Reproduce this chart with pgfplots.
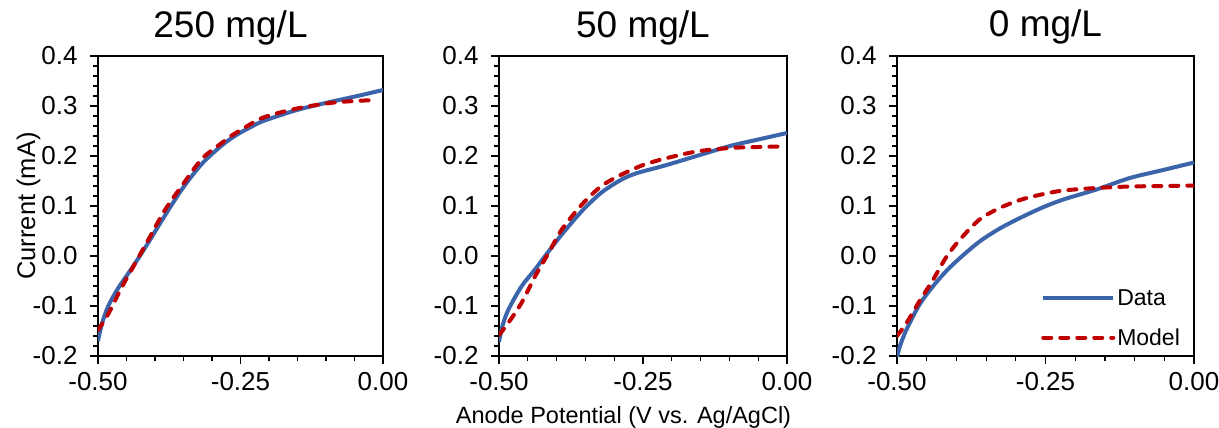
\documentclass[border=0pt]{standalone}
\usepackage{pgfplots}
\pgfplotsset{compat=1.18}
\usepackage{fontspec}
\setmainfont{Liberation Sans}
\definecolor{dblue}{RGB}{59,100,170}
\definecolor{dred}{RGB}{192,0,0}
\pgfplotsset{
  panel/.style={
    scale only axis, height=300pt,
    xmin=-0.5, xmax=0, ymin=-0.2, ymax=0.4,
    xtick={-0.5,-0.25,0}, xticklabels={-0.50,-0.25,0.00},
    ytick={-0.2,-0.1,0,0.1,0.2,0.3,0.4},
    yticklabels={-0.2,-0.1,0.0,0.1,0.2,0.3,0.4},
    minor x tick num=4, minor y tick num=4,
    tick align=outside, tick pos=left,
    major tick length=8pt, minor tick length=5pt,
    axis line style={line width=1.2pt, black},
    tick style={line width=1.2pt, black},
    minor tick style={line width=1.2pt, black},
    every tick label/.append style={font=\fontsize{26}{26}\selectfont},
    yticklabel style={xshift=-9pt},
    xticklabel style={yshift=-5pt},
    /pgf/number format/assume math mode=true,
    title style={font=\fontsize{37}{37}\selectfont, at={(0.5,1)}, anchor=base, yshift=13pt},
  },
  dataline/.style={dblue, line width=4pt, smooth, no marks},
  modelline/.style={dred, line width=4pt, smooth, no marks, dash pattern=on 8pt off 9pt, line cap=round},
}
\begin{document}
\begin{tikzpicture}
\path[use as bounding box] (0pt,0pt) rectangle (1219pt,-428pt);
% Panel 1
\begin{axis}[panel, width=285pt, at={(98pt,-356pt)}, anchor=south west,
  title={250 mg/L}, title style={xshift=-10pt},
  ylabel={Current (mA)},
  ylabel style={font=\fontsize{25.5}{25.5}\selectfont, at={(axis description cs:-0.221,0.5)}, anchor=base},
]
\addplot[dataline] coordinates {
(-0.500,-0.170) (-0.493,-0.135) (-0.482,-0.100) (-0.465,-0.065) (-0.447,-0.035)
(-0.430,-0.006) (-0.410,0.030) (-0.388,0.071) (-0.353,0.133) (-0.318,0.184)
(-0.283,0.221) (-0.260,0.240) (-0.245,0.250) (-0.230,0.259) (-0.210,0.270)
(-0.151,0.292) (-0.093,0.308) (-0.045,0.320) (0.000,0.332)};
\addplot[modelline] coordinates {
(-0.500,-0.148) (-0.482,-0.116) (-0.458,-0.062) (-0.435,-0.015) (-0.412,0.032)
(-0.382,0.093) (-0.353,0.140) (-0.318,0.194) (-0.283,0.226) (-0.268,0.239)
(-0.248,0.253) (-0.210,0.277) (-0.151,0.295) (-0.093,0.306) (-0.050,0.310)
(-0.010,0.312)};
\end{axis}
% Panel 2
\begin{axis}[panel, width=288pt, at={(499pt,-356pt)}, anchor=south west,
  title={50 mg/L},
  xlabel={Anode Potential (V vs. Ag/AgCl)},
  xlabel style={font=\fontsize{23.5}{23.5}\selectfont, at={(axis description cs:0.5,0)}, anchor=base, yshift=-67pt, xshift=-19.5pt},
]
\addplot[dataline] coordinates {
(-0.500,-0.172) (-0.494,-0.140) (-0.484,-0.108) (-0.461,-0.061) (-0.4375,-0.027)
(-0.414,0.009) (-0.391,0.043) (-0.356,0.090) (-0.322,0.127) (-0.287,0.153)
(-0.260,0.166) (-0.215,0.180) (-0.157,0.200) (-0.099,0.220) (-0.050,0.233)
(0.000,0.246)};
\addplot[modelline] coordinates {
(-0.500,-0.158) (-0.484,-0.134) (-0.461,-0.094) (-0.4375,-0.041) (-0.414,0.006)
(-0.391,0.053) (-0.356,0.103) (-0.322,0.140) (-0.287,0.163) (-0.252,0.181)
(-0.215,0.194) (-0.157,0.209) (-0.099,0.216) (-0.050,0.218) (-0.007,0.219)};
\end{axis}
% Panel 3
\begin{axis}[panel, width=297pt, at={(897pt,-356pt)}, anchor=south west,
  title={0 mg/L},
  legend style={draw=none, fill=none, at={(rel axis cs:0.97,0.017)}, anchor=south east,
    font=\fontsize{23}{23}\selectfont, row sep=18pt},
  legend cell align=left,
  legend image code/.code={\draw[#1] (0pt,0pt) -- (70pt,0pt);},
]
\addplot[dataline] coordinates {
(-0.500,-0.203) (-0.495,-0.180) (-0.484,-0.147) (-0.462,-0.097) (-0.439,-0.060)
(-0.417,-0.030) (-0.394,-0.004) (-0.361,0.029) (-0.327,0.055) (-0.293,0.076)
(-0.257,0.096) (-0.220,0.113) (-0.164,0.133) (-0.108,0.156) (-0.052,0.172)
(0.000,0.187)};
\addlegendentry{Data}
\addplot[modelline] coordinates {
(-0.500,-0.160) (-0.484,-0.134) (-0.462,-0.090) (-0.439,-0.047) (-0.417,-0.002)
(-0.394,0.033) (-0.361,0.073) (-0.327,0.096) (-0.293,0.112) (-0.257,0.123)
(-0.220,0.131) (-0.164,0.136) (-0.108,0.139) (-0.050,0.140) (0.000,0.141)};
\addlegendentry{Model}
\end{axis}
\end{tikzpicture}
\end{document}
